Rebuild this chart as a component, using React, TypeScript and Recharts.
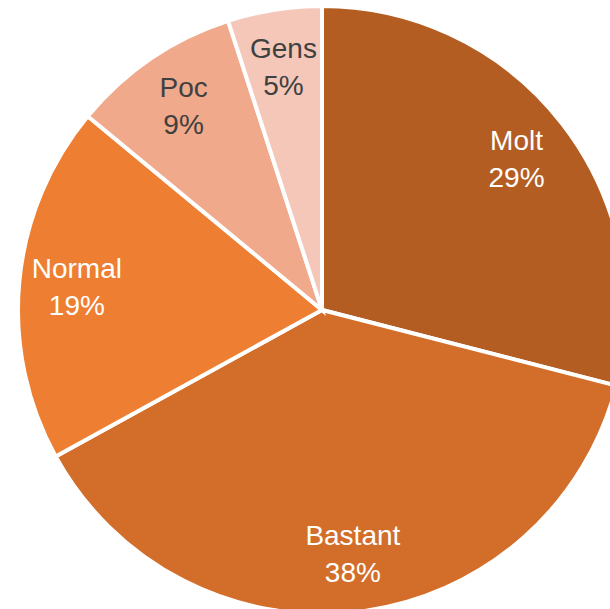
import React from "react";
import { PieChart, Pie, Cell } from "recharts";

// Answer shares, clockwise from 12 o'clock
const categories = ["Molt", "Bastant", "Normal", "Poc", "Gens"];
const shares = [29, 38, 19, 9, 5];
const sliceColors = ["#B35D22", "#D36E2A", "#ED7E32", "#F0A98A", "#F4C7B9"];
const labelColors = ["#FFFFFF", "#FFFFFF", "#FFFFFF", "#404040", "#404040"];

const RAD = Math.PI / 180;

const pieData = categories.map((name, i) => ({ name, value: shares[i] }));

function renderLabel(props: any) {
  const { cx, cy, midAngle, outerRadius, index, name, value } = props;
  const r = outerRadius * 0.81;
  const x = cx + r * Math.cos(-midAngle * RAD);
  const y = cy + r * Math.sin(-midAngle * RAD);
  return (
    <text
      x={x}
      y={y}
      textAnchor="middle"
      fill={labelColors[index]}
      fontSize={28}
      fontFamily="'Liberation Sans', Arial, sans-serif"
    >
      <tspan x={x} y={y - 9}>{name}</tspan>
      <tspan x={x} y={y + 28}>{value}%</tspan>
    </text>
  );
}

export default function App() {
  return (
    <div style={{ position: "absolute", left: 0, top: 0, width: 610, height: 609, overflow: "hidden", background: "#fff" }}>
      <PieChart width={610} height={609} margin={{ top: 0, right: 0, bottom: 0, left: 0 }}>
        <Pie
          data={pieData}
          dataKey="value"
          nameKey="name"
          cx={322}
          cy={310}
          outerRadius={304}
          startAngle={90}
          endAngle={-270}
          stroke="#FFFFFF"
          strokeWidth={4}
          label={renderLabel}
          labelLine={false}
          isAnimationActive={false}
        >
          {pieData.map((d, i) => (
            <Cell key={d.name} fill={sliceColors[i]} />
          ))}
        </Pie>
      </PieChart>
    </div>
  );
}
